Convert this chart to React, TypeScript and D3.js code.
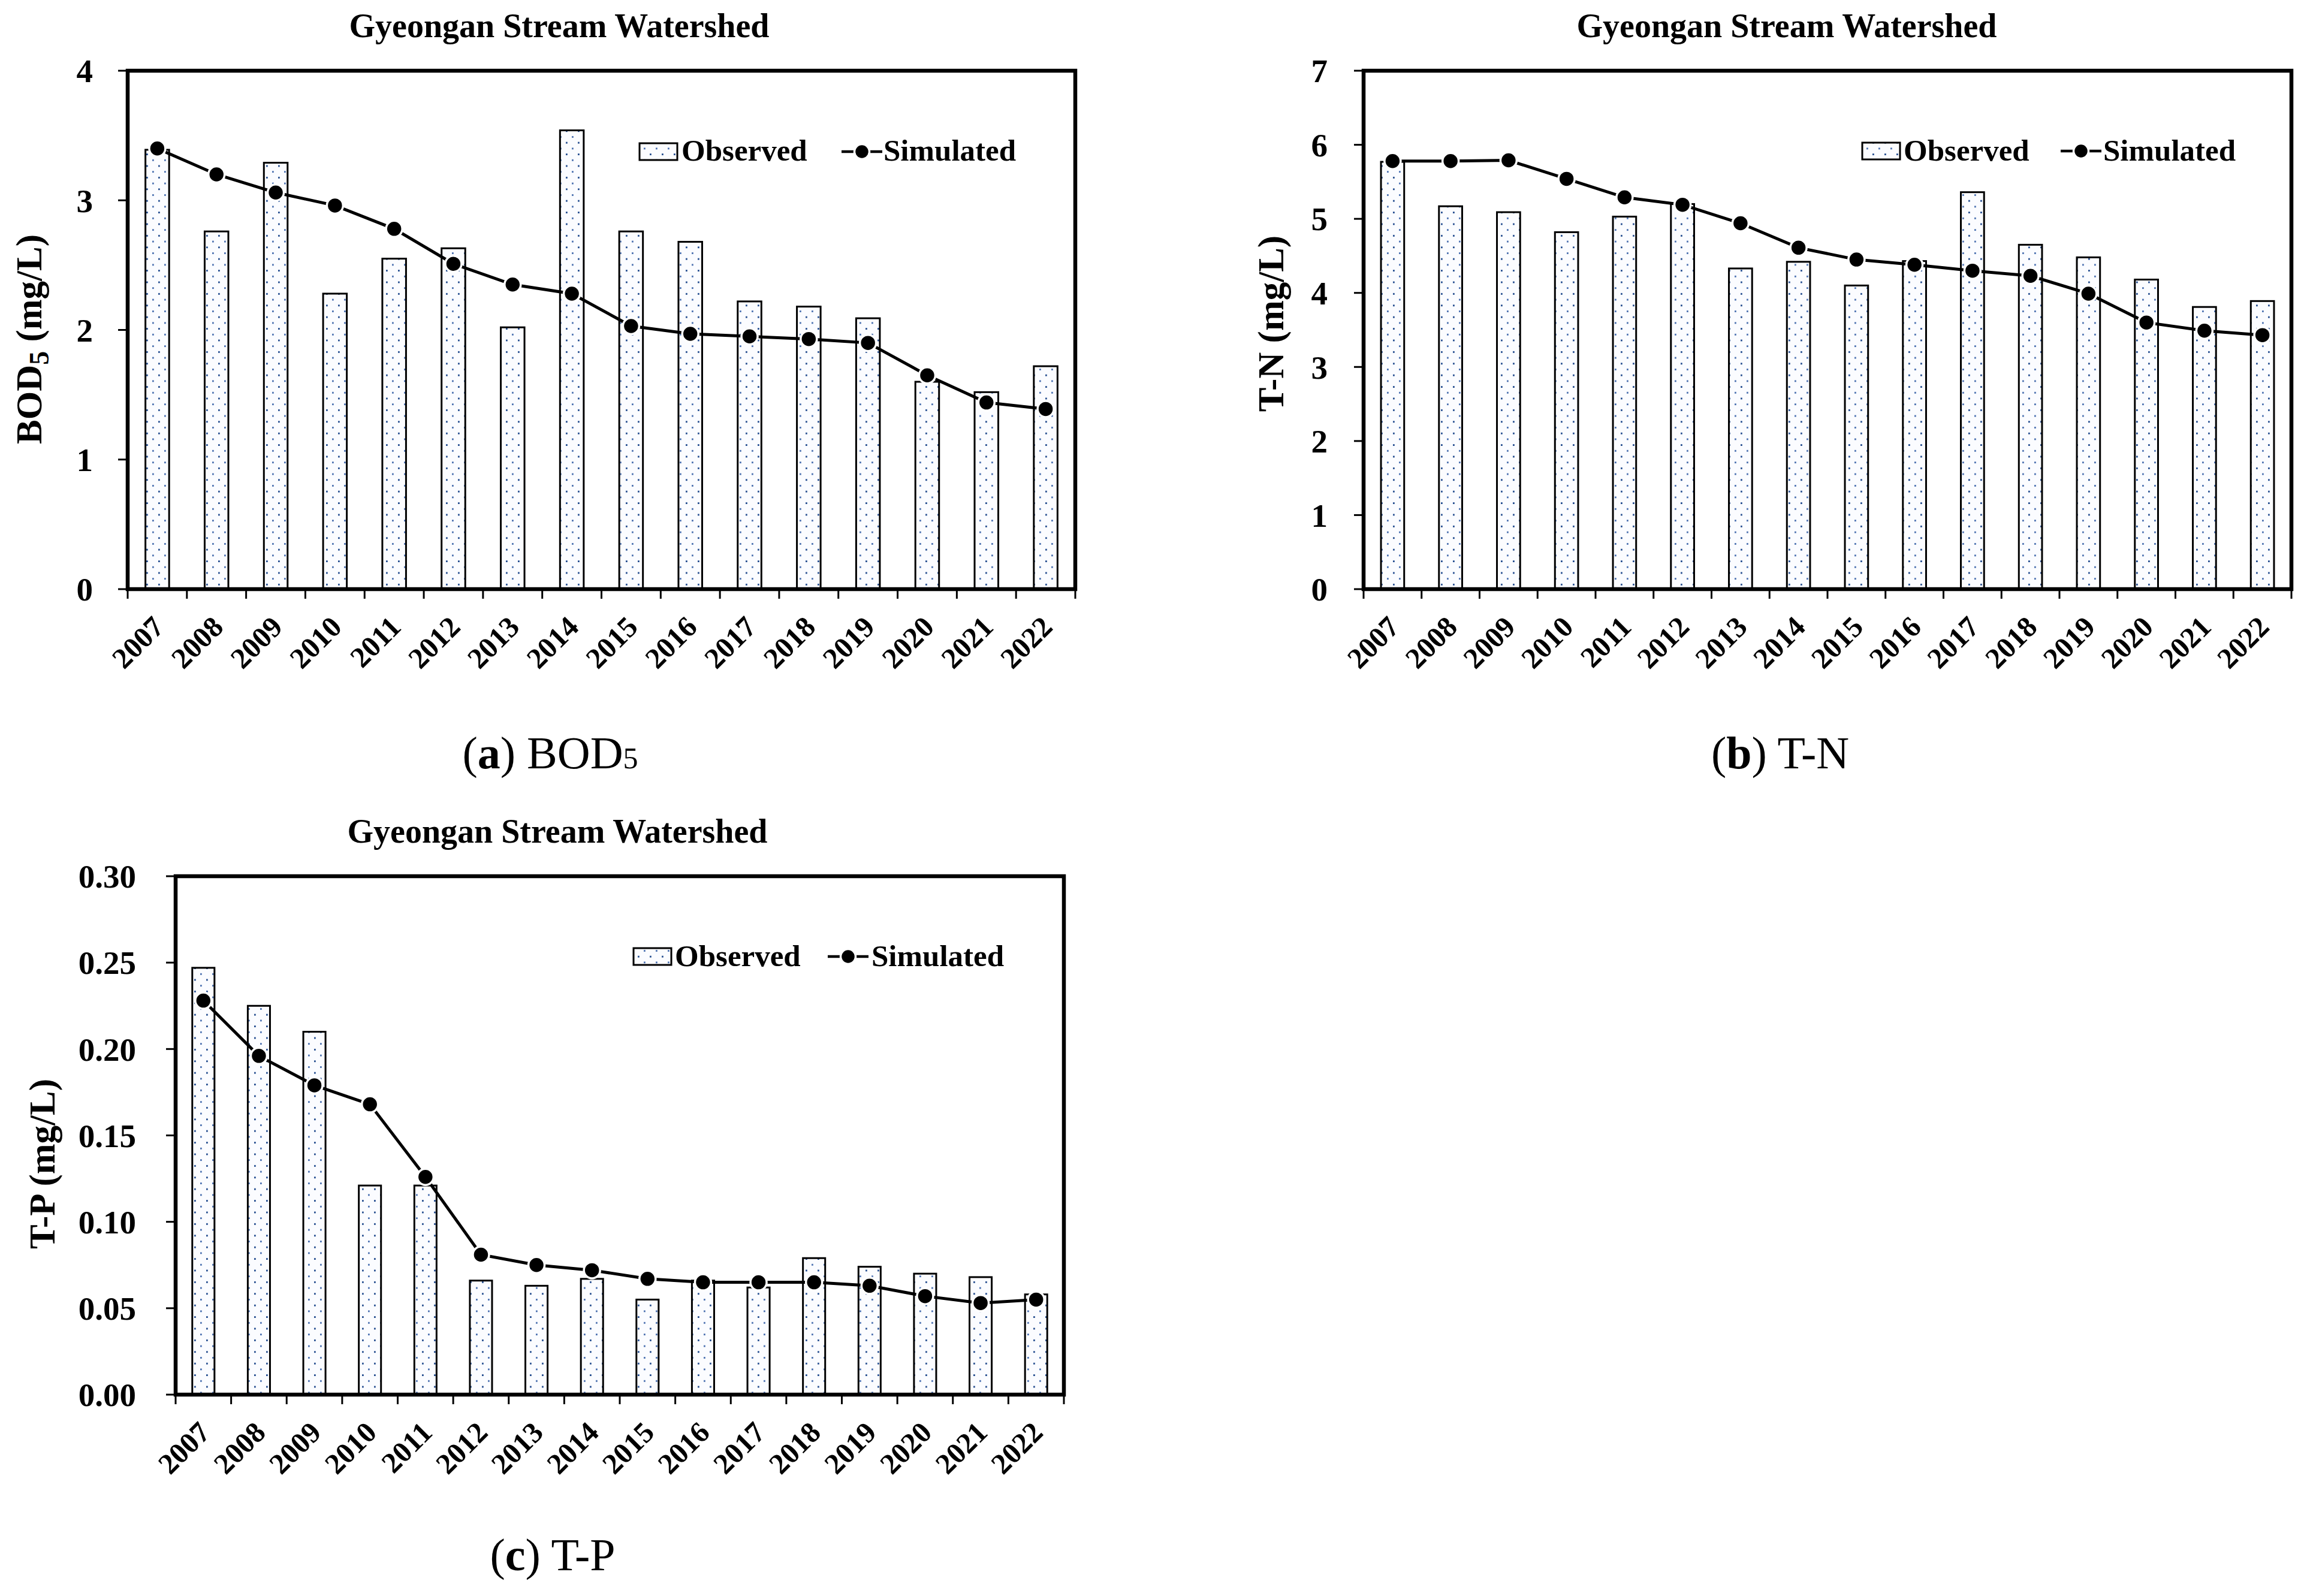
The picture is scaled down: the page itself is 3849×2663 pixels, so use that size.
import React, { useEffect } from "react";
import * as d3 from "d3";

const years = ["2007","2008","2009","2010","2011","2012","2013","2014","2015","2016","2017","2018","2019","2020","2021","2022"];

const bodObserved = [3.39, 2.76, 3.29, 2.28, 2.55, 2.63, 2.02, 3.54, 2.76, 2.68, 2.22, 2.18, 2.09, 1.60, 1.52, 1.72];
const bodSimulated = [3.40, 3.20, 3.06, 2.96, 2.78, 2.51, 2.35, 2.28, 2.03, 1.97, 1.95, 1.93, 1.90, 1.65, 1.44, 1.39];
const bodTicks = [0, 1, 2, 3, 4];

const tnObserved = [5.77, 5.17, 5.09, 4.82, 5.03, 5.20, 4.33, 4.42, 4.10, 4.43, 5.36, 4.65, 4.48, 4.18, 3.81, 3.89];
const tnSimulated = [5.78, 5.78, 5.79, 5.54, 5.29, 5.19, 4.94, 4.61, 4.45, 4.38, 4.30, 4.23, 3.99, 3.60, 3.49, 3.43];
const tnTicks = [0, 1, 2, 3, 4, 5, 6, 7];

const tpObserved = [0.247, 0.225, 0.210, 0.121, 0.121, 0.066, 0.063, 0.067, 0.055, 0.066, 0.062, 0.079, 0.074, 0.070, 0.068, 0.058];
const tpSimulated = [0.228, 0.196, 0.179, 0.168, 0.126, 0.081, 0.075, 0.072, 0.067, 0.065, 0.065, 0.065, 0.063, 0.057, 0.053, 0.055];
const tpTicks = [0, 0.05, 0.10, 0.15, 0.20, 0.25, 0.30];

const titleText = "Gyeongan Stream Watershed";
const FONT = "'Liberation Serif', 'Times New Roman', serif";

type PanelProps = {
  x0: number; x1: number; y0: number; y1: number;
  observed: number[]; simulated: number[]; ticks: number[];
  fmt: (v: number) => string; tickGap: number;
  yLabel: React.ReactNode; yLabelX: number; yLabelY: number;
  titleX: number; titleY: number;
  legend: { boxX: number; boxY: number; obsText: number; simX: number; simText: number; base: number };
};

function Panel(p: PanelProps) {
  const x = d3.scaleBand<string>().domain(years).range([p.x0, p.x1]).paddingInner(0.6).paddingOuter(0.3);
  const max = p.ticks[p.ticks.length - 1];
  const y = d3.scaleLinear().domain([0, max]).range([p.y1, p.y0]);
  const step = x.step();
  const cx = (yr: string) => (x(yr) as number) + x.bandwidth() / 2;
  const lineGen = d3.line<number>().x((_, i) => cx(years[i])).y((v) => y(v));
  const boundaries = d3.range(years.length + 1).map((i) => p.x0 + i * step);
  const lg = p.legend;
  const legMid = lg.boxY + 14;
  return (
    <g>
      <text x={p.titleX} y={p.titleY} textAnchor="middle" fontFamily={FONT} fontWeight="bold" fontSize={56}>{titleText}</text>
      {years.map((yr, i) => (
        <rect key={yr} x={x(yr)} y={y(p.observed[i])} width={x.bandwidth()} height={p.y1 - y(p.observed[i])}
          fill="url(#dots)" stroke="#000" strokeWidth={3} />
      ))}
      <rect x={p.x0} y={p.y0} width={p.x1 - p.x0} height={p.y1 - p.y0} fill="none" stroke="#000" strokeWidth={6.5} />
      {p.ticks.map((t) => (
        <g key={t}>
          <line x1={p.x0 - 16} x2={p.x0} y1={y(t)} y2={y(t)} stroke="#000" strokeWidth={3} />
          <text x={p.x0 - p.tickGap} y={y(t)} dy="0.35em" textAnchor="end" fontFamily={FONT} fontWeight="bold" fontSize={55}>{p.fmt(t)}</text>
        </g>
      ))}
      {boundaries.map((bx, i) => (
        <line key={i} x1={bx} x2={bx} y1={p.y1} y2={p.y1 + 16} stroke="#000" strokeWidth={3} />
      ))}
      {years.map((yr) => (
        <text key={yr} transform={`translate(${cx(yr) + 14},${p.y1 + 66}) rotate(-45)`} textAnchor="end"
          fontFamily={FONT} fontWeight="bold" fontSize={49}>{yr}</text>
      ))}
      <path d={lineGen(p.simulated) || ""} fill="none" stroke="#000" strokeWidth={5} />
      {years.map((yr, i) => (
        <circle key={yr} cx={cx(yr)} cy={y(p.simulated[i])} r={13.5} fill="#000" stroke="#fff" strokeWidth={3.5} />
      ))}
      <text transform={`translate(${p.yLabelX},${p.yLabelY}) rotate(-90)`} textAnchor="middle" dy="0.35em"
        fontFamily={FONT} fontWeight="bold" fontSize={61}>{p.yLabel}</text>
      <rect x={lg.boxX} y={lg.boxY} width={63} height={28} fill="url(#dots)" stroke="#000" strokeWidth={3} />
      <text x={lg.obsText} y={lg.base} fontFamily={FONT} fontWeight="bold" fontSize={51}>Observed</text>
      <line x1={lg.simX} x2={lg.simX + 68} y1={legMid} y2={legMid} stroke="#000" strokeWidth={4.5} />
      <circle cx={lg.simX + 34} cy={legMid} r={12.5} fill="#000" stroke="#fff" strokeWidth={3.5} />
      <text x={lg.simText} y={lg.base} fontFamily={FONT} fontWeight="bold" fontSize={51}>Simulated</text>
    </g>
  );
}

export default function App() {
  useEffect(() => {
    document.body.style.margin = "0";
  }, []);
  const intFmt = (v: number) => d3.format("d")(v);
  const decFmt = (v: number) => d3.format(".2f")(v);
  return (
    <svg width={3849} height={2663} style={{ position: "absolute", left: 0, top: 0, background: "#fff" }}>
      <defs>
        <pattern id="dots" width={20} height={19.4} patternUnits="userSpaceOnUse">
          <rect width={20} height={19.4} fill="#fbfcff" />
          <rect x={4} y={4} width={2.8} height={2.8} fill="#244d8f" />
          <rect x={14} y={13.7} width={2.8} height={2.8} fill="#4a70b0" />
        </pattern>
      </defs>
      <Panel x0={213} x1={1794} y0={118} y1={983} observed={bodObserved} simulated={bodSimulated} ticks={bodTicks}
        fmt={intFmt} tickGap={58}
        yLabel={<><tspan>BOD</tspan><tspan fontSize={46} dy="12">5</tspan><tspan dy="-12"> (mg/L)</tspan></>}
        yLabelX={48} yLabelY={566} titleX={933} titleY={62}
        legend={{ boxX: 1067, boxY: 239, obsText: 1137, simX: 1404, simText: 1474, base: 268 }} />
      <Panel x0={2275} x1={3823} y0={118} y1={983} observed={tnObserved} simulated={tnSimulated} ticks={tnTicks}
        fmt={intFmt} tickGap={60}
        yLabel={"T-N (mg/L)"} yLabelX={2120} yLabelY={540} titleX={2981} titleY={62}
        legend={{ boxX: 3107, boxY: 238, obsText: 3176, simX: 3438, simText: 3509, base: 268 }} />
      <Panel x0={293} x1={1775} y0={1462} y1={2327} observed={tpObserved} simulated={tpSimulated} ticks={tpTicks}
        fmt={decFmt} tickGap={66}
        yLabel={"T-P (mg/L)"} yLabelX={70} yLabelY={1942} titleX={930} titleY={1406}
        legend={{ boxX: 1057, boxY: 1582, obsText: 1126, simX: 1381, simText: 1454, base: 1612 }} />
      <text x={918} y={1282} textAnchor="middle" fontFamily={FONT} fontSize={76}>
        <tspan>(</tspan><tspan fontWeight="bold">a</tspan><tspan>) BOD</tspan><tspan fontSize={50}>5</tspan>
      </text>
      <text x={2970} y={1282} textAnchor="middle" fontFamily={FONT} fontSize={76}>
        <tspan>(</tspan><tspan fontWeight="bold">b</tspan><tspan>) T-N</tspan>
      </text>
      <text x={922} y={2620} textAnchor="middle" fontFamily={FONT} fontSize={76}>
        <tspan>(</tspan><tspan fontWeight="bold">c</tspan><tspan>) T-P</tspan>
      </text>
    </svg>
  );
}
